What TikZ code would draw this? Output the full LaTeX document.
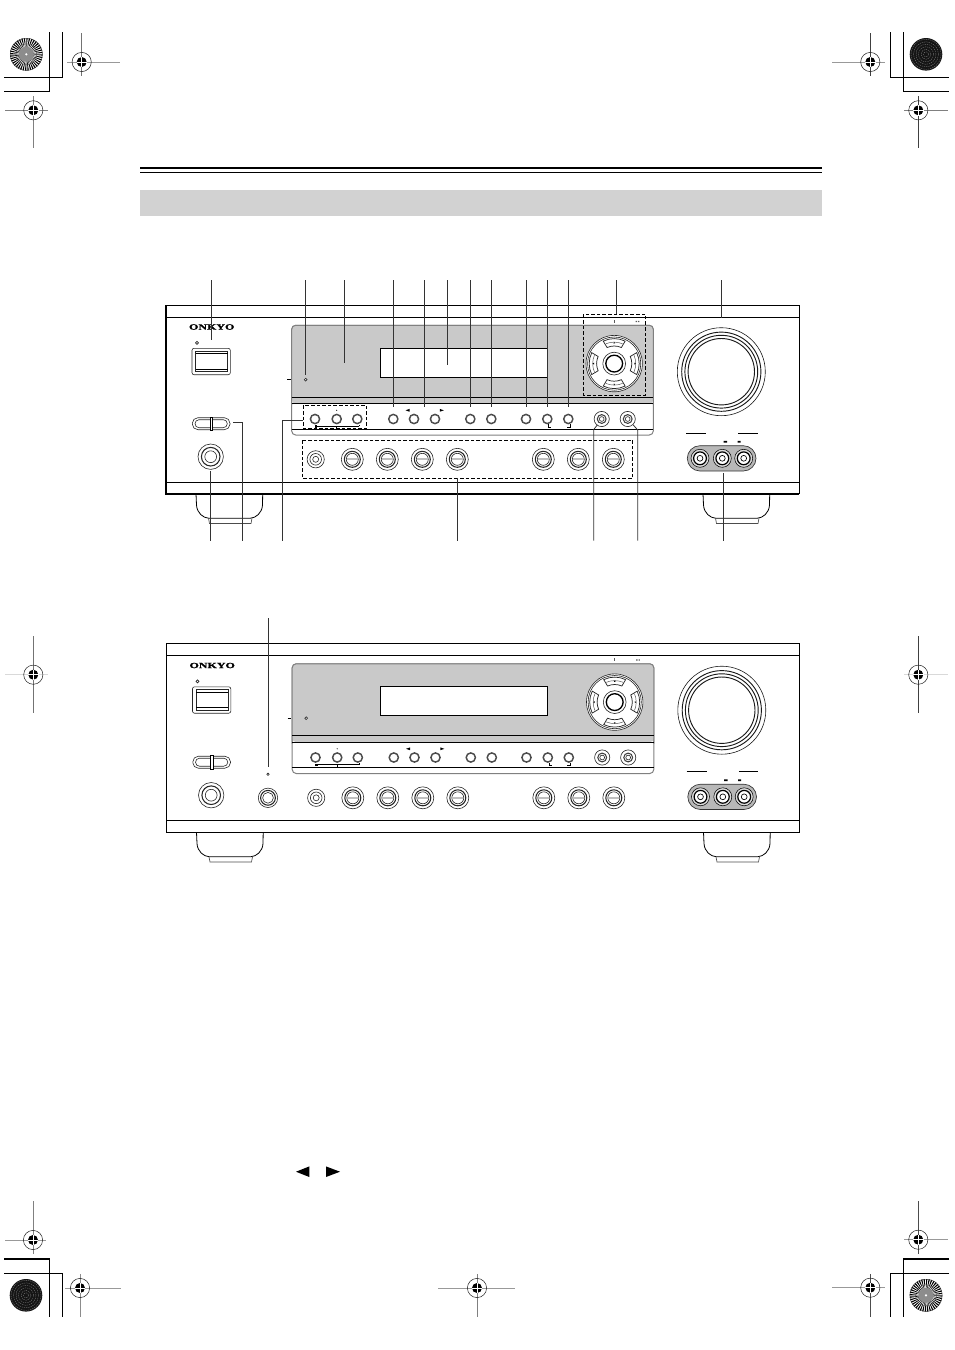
\documentclass[tikz,border=0pt]{standalone}
\usepackage{fontspec}
\setmainfont{Liberation Serif}
\newfontfamily\logofont[FakeBold=1.6]{Liberation Serif Bold}
\definecolor{pg}{HTML}{C9C9C9}
\definecolor{hd}{HTML}{D2D2D2}
\definecolor{pill}{HTML}{B8B8B8}
\tikzset{
  ln/.style={line width=0.75pt,draw=black},
  thn/.style={line width=0.45pt,draw=black!85},
  leader/.style={line width=0.6pt,draw=black!80},
  dbox/.style={line width=0.6pt,draw=black,dash pattern=on 2.7pt off 1.5pt},
  crop/.style={line width=0.8pt,draw=black},
  rowbtn/.style={line width=1.1pt,draw=black!70,fill=white},
}
\newcommand{\regmark}[8]{%
  \draw[line width=0.6pt,draw=#7] (#1,#5) -- (#1,#6);
  \draw[line width=0.6pt,draw=#8] (#3,#2) -- (#4,#2);
  \draw[line width=0.4pt,draw=black!85] (#1,#2) circle (9.6);
  \fill[black] (#1,#2) circle (5);
  \draw[white,line width=0.55pt] (#1-5.2,#2) -- (#1+5.2,#2) (#1,#2-5.2) -- (#1,#2+5.2);
}
\newcommand{\stardisc}[2]{%
  \fill[white] (#1,#2) circle (16.3);
  \foreach \a in {0,9,...,359} {
    \fill[black] ([shift={(\a:4)}]#1,#2) -- ([shift={(\a:16.3)}]#1,#2) -- ([shift={(\a+4.8:16.3)}]#1,#2) -- cycle;
  }
  \draw[black!80,line width=0.3pt] (#1,#2) circle (16.1);
  \fill[black!45] (#1,#2) circle (7.5);
  \draw[black!70,line width=0.3pt] (#1,#2) circle (10.5);
  \fill[white] (#1,#2) circle (1.2);
}
\newcommand{\darkdisc}[2]{%
  \fill[black!92] (#1,#2) circle (16.3);
  \foreach \r in {2.5,5,7.5,10,12.5,15} {
    \draw[black!50,line width=0.25pt,dash pattern=on 1pt off 0.7pt] (#1,#2) circle (\r);
  }
}
\newcommand{\rowbtns}{%
  \foreach \x in {315,336.7,357.3,393.3,414,435,470.3,491.3,526,547.3,568.3} {
    \draw[rowbtn] (\x,419) circle (4.6);
  }
  \foreach \x in {601.7,627.7} {
    \draw[thn,fill=white] (\x,419) circle (7.6);
    \draw[line width=0.8pt,draw=black!75] (\x,419) circle (4.4);
    \draw[thn] (\x,419) circle (2.4);
  }
}
\newcommand{\bigjack}[2]{%
  \draw[thn] (#1,#2) circle (11);
  \draw[line width=0.8pt,draw=black!85] (#1,#2) circle (8);
  \draw[thn] (#1,#2) circle (6);
  \draw[line width=1.4pt,draw=black!25] (#1-5.4,#2) -- (#1+5.4,#2);
}
\newcommand{\onefoot}[1]{%
  \draw[line width=0.6pt,xshift=#1*0.75pt] (196,493.7) -- (196.5,505) .. controls (197,513) and (203,518) .. (209,518.3) -- (250,518.3) .. controls (256,518) and (262,513) .. (262.5,505) -- (262.7,493.7);
  \draw[line width=0.5pt,draw=black!70,xshift=#1*0.75pt] (208.5,518.3) -- (209.5,523.5) -- (251,523.5) -- (252,518.3);
}
\newcommand{\panelbody}{%
  % body
  \draw[ln] (166,305) rectangle (799.3,493.7);
  \draw[ln] (166,317.3) -- (799.3,317.3);
  \draw[ln] (166,482) -- (799.3,482);
  \node[font=\logofont\fontsize{6pt}{6pt}\selectfont,xscale=1.5,inner sep=0pt] (logo\pn) at (211.7,327) {ONKYO};
  % power
  \draw[thn] (197,342.9) circle (1.5);
  \draw[thn,rounded corners=1.5pt] (192,348.3) rectangle (230.3,374.7);
  \draw[thn] (195.7,351) rectangle (227.7,371.7);
  \draw[line width=0.8pt] (195.7,353.7) -- (227.7,353.7) (195.7,369.3) -- (227.7,369.3);
  % slider
  \draw[thn,rounded corners=4.2pt] (192.3,417.7) rectangle (230,429.7);
  \draw[thn,rounded corners=3pt] (195,419.7) rectangle (227.3,427.7);
  \draw[line width=0.6pt,fill=white] (210,417) rectangle (212.6,430.4);
  % phones
  \draw[thn] (210.7,456.7) circle (12.7);
  \draw[line width=0.8pt,draw=black!85] (210.7,456.7) circle (9.3);
  \draw[thn] (210.7,456.7) circle (5.9);
  % front panel
  \draw[line width=0.75pt,draw=black!50,fill=white,rounded corners=3pt] (291.7,400) -- (291.7,325.3) -- (653.3,325.3) -- (653.3,435) -- (291.7,435) -- cycle;
  \fill[pg,rounded corners=3pt] (291.7,400) -- (291.7,325.3) -- (653.3,325.3) -- (653.3,403.7) -- (291.7,403.7) -- cycle;
  \draw[line width=0.75pt,draw=black!50,rounded corners=3pt] (291.7,405) -- (291.7,325.3) -- (653.3,325.3) -- (653.3,405);
  \draw[ln] (291.7,397.3) -- (653.3,397.3);
  \draw[ln] (291.7,403.7) -- (653.3,403.7);
  \draw[ln] (291.7,429) -- (653.3,429);
  \draw[ln,fill=white] (380.3,348.3) rectangle (547.3,377.3);
  \draw[line width=0.5pt] (287,379.7) -- (290.5,379.7);
  \draw[thn,fill=white] (305.7,379.7) circle (1.4);
  \rowbtns
  \draw[line width=0.5pt] (315.7,426.3) -- (359,426.3) (359,426.3) -- (359,424.5) (336.7,426.3) -- (336.7,428);
  \fill (314.7,425.3) rectangle (317,427.5);
  \fill (336.7,410.3) circle (0.6);
  \fill (405.5,410.3) -- (409.5,408.9) -- (409.5,411.7) -- cycle;
  \fill (443.8,410.3) -- (439.8,408.9) -- (439.8,411.7) -- cycle;
  \draw[line width=0.5pt] (548.5,424) -- (548.5,427.3) -- (551.3,427.3);
  \draw[line width=0.5pt] (570,424) -- (570,427.3) -- (566.8,427.3);
  % dial
  \fill[black!65] (613.7,319.7) rectangle (614.4,322.7);
  \fill[black!65] (635.7,320.8) rectangle (637,322.2) (638,320.8) rectangle (639.3,322.2);
  \draw[thn,fill=white] (614.2,363.6) circle (28.2);
  \draw[thn] (614.2,363.6) circle (26.6);
  \foreach \a in {0,90,180,270} {
    \begin{scope}[shift={(614.2,363.6)},rotate=\a]
      \draw[line width=0.55pt,draw=black!85,fill=white] (244:25) arc (244:296:25) -- (294:17.6) arc (294:246:17.6) -- cycle;
      \draw[line width=0.35pt,draw=black!70] (247:21.5) arc (247:293:21.5);
      \fill (0,-21.6) -- (0.9,-20.2) -- (-0.9,-20.2) -- cycle;
    \end{scope}
  }
  \draw[thn] (614.2,363.6) circle (11.4);
  \draw[line width=1pt] (614.2,363.6) circle (8.4);
  % volume
  \foreach \r/\w in {44/0.45,39.6/0.7,36.4/0.7,33.2/0.7} {
    \draw[line width=\w pt,draw=black!90] (721.3,371.7) circle (\r);
  }
  % input labels
  \draw[line width=0.6pt] (686,433.3) -- (706,433.3) (738.3,433.3) -- (757.7,433.3);
  \fill (723.7,440.8) rectangle (727,442.6) (737.7,440.8) rectangle (740.7,442.6);
  \draw[line width=0.5pt,draw=black!80,fill=pill,rounded corners=9.5pt] (687.3,445.7) rectangle (756,471);
  \foreach \x in {700,722.3,743.7} {
    \draw[line width=0.4pt,fill=pill!50] (\x,458.3) circle (9);
    \draw[line width=0.9pt,fill=white] (\x,458.3) circle (6.4);
    \draw[line width=0.5pt] (\x,458.3) circle (2.9);
  }
  % jacks
  \draw[thn] (315.7,459.3) circle (8.6);
  \draw[thn] (315.7,459.3) circle (5.8);
  \draw[thn] (315.7,459.3) circle (3);
  \foreach \x in {352.3,387.3,422.3,457.3,543.3,578.3,613.3} { \bigjack{\x}{459.3} }
  % feet
  \onefoot{0}
  \onefoot{507}
}
\begin{document}
\begin{tikzpicture}[x=0.75pt,y=-0.75pt]
\useasboundingbox (0,0) rectangle (954,1350);
% crop marks
\draw[crop] (49.7,32) -- (49.7,91.3) -- (4,91.3);
\draw[crop] (62.3,32) -- (62.3,77.3) -- (4,77.3);
\draw[crop] (890.3,32) -- (890.3,77.3) -- (949,77.3);
\draw[crop] (903.3,32) -- (903.3,91.3) -- (949,91.3);
\draw[crop] (4,1259) -- (49.7,1259) -- (49.7,1317);
\draw[crop] (4,1273.3) -- (62.5,1273.3) -- (62.5,1317);
\draw[crop] (949,1259) -- (903.3,1259) -- (903.3,1317);
\draw[crop] (949,1273.3) -- (890.7,1273.3) -- (890.7,1317);
\stardisc{26.3}{54.3}
\darkdisc{926}{54.3}
\darkdisc{26}{1295.3}
\stardisc{926}{1295.3}
\regmark{81.7}{62}{67}{120}{33}{76}{black!55}{black!40}
\regmark{33.3}{110.3}{5}{48}{96}{148}{black!50}{black!50}
\regmark{870.3}{62}{832}{885}{33}{76}{black!75}{black!40}
\regmark{918.3}{110.3}{904}{948}{96}{148}{black!75}{black!50}
\regmark{33.3}{674.7}{5}{48}{636}{713}{black!55}{black!15}
\regmark{918.3}{674.7}{904}{948}{636}{713}{black!75}{black!15}
\regmark{33}{1240}{5}{46}{1201}{1254}{black!50}{black!40}
\regmark{80}{1288}{65}{121}{1274}{1317}{black!45}{black!40}
\regmark{477}{1288}{438}{515}{1274}{1317}{black!50}{black!40}
\regmark{918.3}{1239.7}{904}{948}{1201}{1254}{black!70}{black!40}
\regmark{870.3}{1287.7}{832}{885}{1274}{1317}{black!70}{black!40}
% header
\draw[line width=1.5pt] (140,167.6) -- (822,167.6);
\draw[line width=0.6pt] (140,172.5) -- (822,172.5);
\fill[hd] (140,190) rectangle (822,216);
% first receiver
\begin{scope}
  \def\pn{a}
  \panelbody
  \draw[line width=1.6pt] (166,305) -- (166,493.7) -- (799.3,493.7);
  \draw[dbox] (303.3,405.3) rectangle (366.7,428.7);
  \draw[dbox] (302.3,440) rectangle (632.7,478.3);
  \draw[dbox] (583.7,314.3) rectangle (645.7,395);
\end{scope}
% leaders, top
\foreach \n/\x/\yb in {a/211.3/340,b/305.7/375,c/344.3/362.7,d/393.3/406.7,e/424.3/406.7,f/447/365,g/470.3/406.7,h/491.7/406.7,i/526/406.7,j/547.3/406.7,k/568.3/406.7,l/616.3/314.3,m/721.3/318} {
  \coordinate (ts\n) at (\x,280);
  \coordinate (te\n) at (\x,\yb);
  \draw[leader] (ts\n) -- (te\n);
}
% leaders, bottom
\foreach \n/\x/\yb in {a/210.7/471,d/457.3/478.3,g/723.7/472.7} {
  \coordinate (bs\n) at (\x,540.7);
  \coordinate (be\n) at (\x,\yb);
  \draw[leader] (bs\n) -- (be\n);
}
\coordinate (bsb) at (242,540.7);
\coordinate (beb) at (232.7,422.3);
\draw[leader] (bsb) |- (beb);
\coordinate (bsc) at (282.7,540.7);
\coordinate (bec) at (303.3,420.7);
\draw[leader] (bsc) |- (bec);
\coordinate (bse) at (593.7,540.7);
\coordinate (bee) at (597.3,425);
\draw[leader] (bse) -- (593.7,429.5) -- (bee);
\coordinate (bsf) at (637.7,540.7);
\coordinate (bef) at (633.3,425);
\draw[leader] (bsf) -- (637.7,430) -- (bef);
% second receiver
\begin{scope}[shift={(0.5,338.5)}]
  \def\pn{b}
  \panelbody
  \draw[thn] (267.5,459.3) circle (9.7);
  \draw[line width=0.8pt,draw=black!85] (267.5,459.3) circle (7.4);
  \draw[thn] (267.5,459.3) circle (5.4);
  \draw[thn] (267.5,435.8) circle (1.2);
\end{scope}
\coordinate (hps) at (268,618);
\coordinate (hpe) at (268,767.3);
\draw[leader] (hps) -- (hpe);
% arrows
\fill (296,1171.7) -- (309.3,1166.4) -- (309.3,1177) -- cycle;
\fill (340,1171.7) -- (326,1166.4) -- (326,1177) -- cycle;
\end{tikzpicture}
\end{document}
